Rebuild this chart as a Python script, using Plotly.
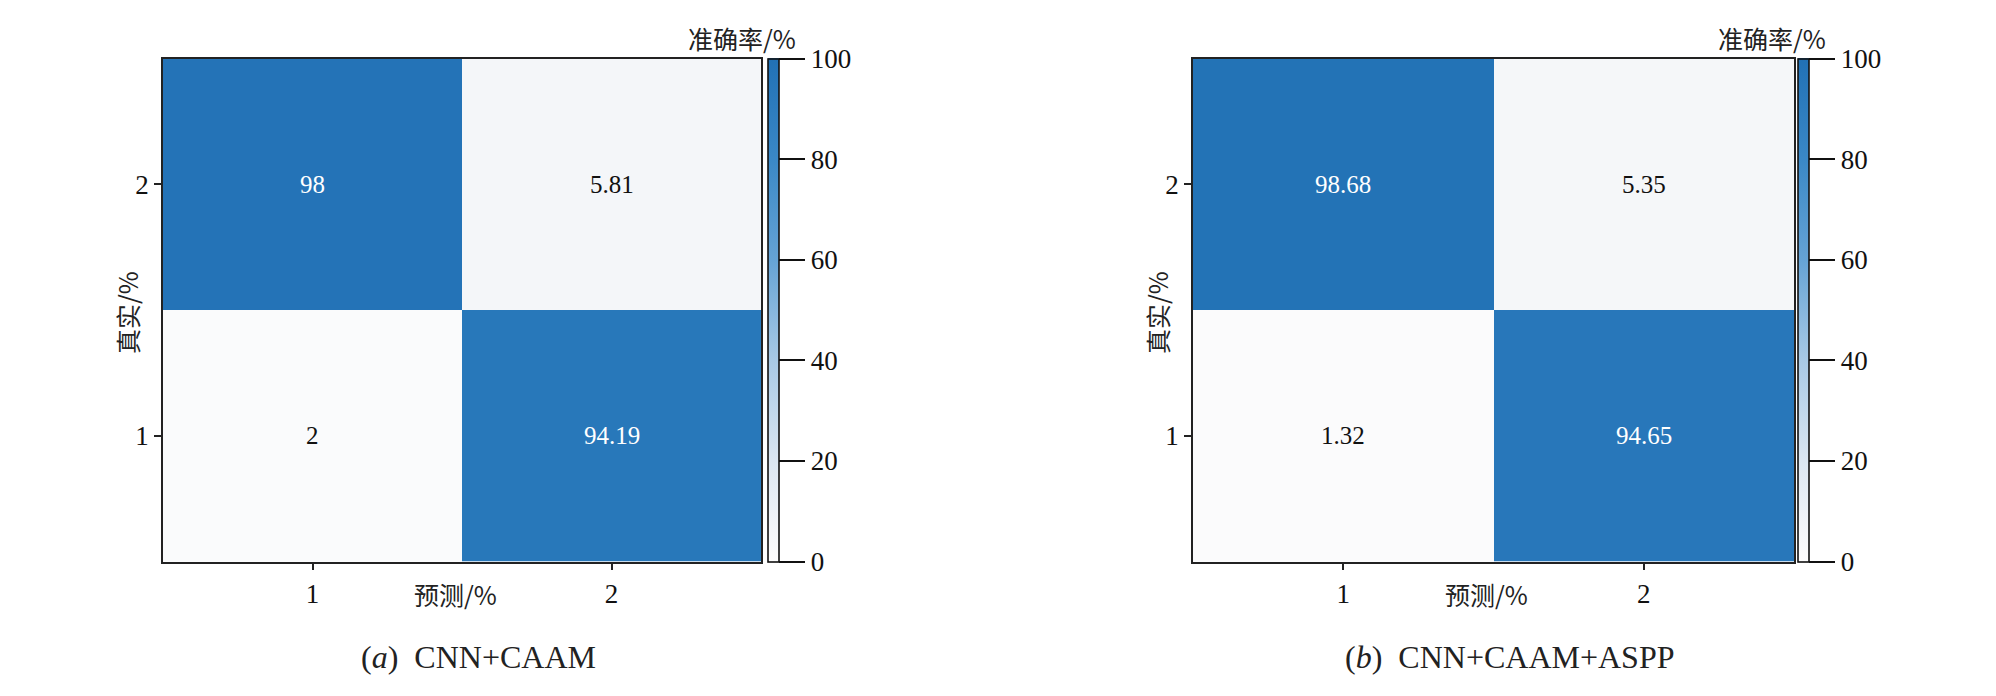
import plotly.graph_objects as go

W, H = 1996, 696
OFF = 8  # page body margin around the figure

# confusion matrices (rows = true class 1, 2 ; cols = predicted 1, 2)
classes = ["1", "2"]
acc_a = [[2, 94.19],
         [98, 5.81]]
acc_b = [[1.32, 94.65],
         [98.68, 5.35]]
captions = ["(<i>a</i>)  CNN+CAAM", "(<i>b</i>)  CNN+CAAM+ASPP"]
cbar_ticks = [0, 20, 40, 60, 80, 100]

BLUES = [
    [0.0, "#fdfdfd"], [0.06, "#f4f6f9"], [0.2, "#dbe6f1"],
    [0.4, "#a8c9e5"], [0.6, "#65a3d5"], [0.8, "#3a88c6"],
    [1.0, "#2171b5"],
]
SERIF = "Liberation Serif"
CJK = "Noto Sans CJK SC"


def px(x):
    return (x - OFF) / W


def py(y):
    return 1 - (y - OFF) / H


panels = [
    dict(z=acc_a, x0=163, x1=761, cb=768, tx="x", ty="y"),
    dict(z=acc_b, x0=1193, x1=1794, cb=1798, tx="x2", ty="y2"),
]
top, bottom = 58.5, 561.5

fig = go.Figure()
annotations = []
layout_axes = {}

for i, p in enumerate(panels):
    fig.add_trace(go.Heatmap(
        z=p["z"], x=classes, y=classes,
        xaxis=p["tx"], yaxis=p["ty"],
        colorscale=BLUES, zmin=0, zmax=100,
        showscale=True,
        hoverinfo="z",
        colorbar=dict(
            x=px(p["cb"]), xanchor="left", xpad=0,
            y=py(bottom), yanchor="bottom", ypad=0,
            len=bottom - top, lenmode="pixels",
            thickness=11, outlinewidth=1.6, outlinecolor="#111",
            tickvals=cbar_ticks, ticks="outside", ticklen=26,
            tickwidth=1.6, tickcolor="#111",
            tickfont=dict(family=SERIF, size=27, color="#111"),
        ),
    ))

    sfx = "" if i == 0 else str(i + 1)
    axis_common = dict(
        showline=True, mirror=True, linecolor="#222", linewidth=1.8,
        ticks="outside", ticklen=7, tickwidth=1.5, tickcolor="#222",
        showgrid=False, zeroline=False,
        tickfont=dict(family=SERIF, size=27, color="#111"),
        type="category",
    )
    layout_axes["xaxis" + sfx] = dict(
        axis_common, domain=[px(p["x0"]), px(p["x1"])],
        anchor="y" + sfx, range=[-0.5, 1.5],
    )
    layout_axes["yaxis" + sfx] = dict(
        axis_common, domain=[py(bottom), py(top)],
        anchor="x" + sfx, range=[-0.5, 1.5],
    )

    # cell values (category index positions)
    for r, row in enumerate(p["z"]):
        for c, v in enumerate(row):
            annotations.append(dict(
                x=c, y=r, xref=p["tx"], yref=p["ty"],
                xanchor="center", yanchor="middle",
                text=f"{v:g}", showarrow=False,
                font=dict(family=SERIF, size=25,
                          color="white" if v > 50 else "#111"),
            ))

    mid = (p["x0"] + p["x1"]) / 2
    text_common = dict(xref="paper", yref="paper", showarrow=False,
                       xanchor="center", yanchor="middle")
    # axis titles
    annotations.append(dict(
        text_common, x=px(mid - 7), y=py(594), text="预测/%",
        font=dict(family=CJK, size=25, color="#222"),
    ))
    annotations.append(dict(
        text_common, x=px(p["x0"] - 36), y=py(313), text="真实/%",
        textangle=-90,
        font=dict(family=CJK, size=25, color="#222"),
    ))
    # colorbar title
    annotations.append(dict(
        text_common, x=px(p["cb"] - 26), y=py(38), text="准确率/%",
        font=dict(family=CJK, size=25, color="#222"),
    ))
    # caption
    annotations.append(dict(
        text_common, x=px(mid + 16), y=py(657), text=captions[i],
        font=dict(family=SERIF, size=32, color="#222"),
    ))

fig.update_layout(
    width=W, height=H,
    margin=dict(l=0, r=0, t=0, b=0),
    plot_bgcolor="white", paper_bgcolor="white",
    annotations=annotations,
    **layout_axes,
)

fig.write_html("out.html")
